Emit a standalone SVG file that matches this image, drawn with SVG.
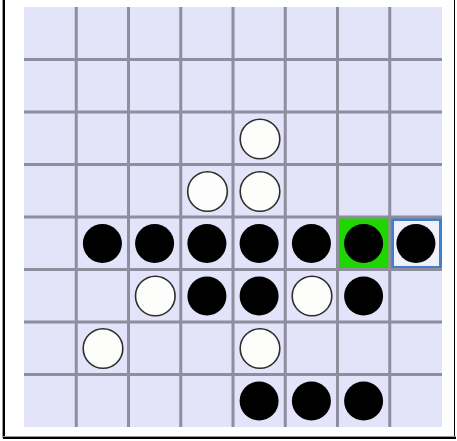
<svg xmlns="http://www.w3.org/2000/svg" width="457" height="441" viewBox="0 0 457 441">
  <style>
    .gl { stroke: #8e8e9e; stroke-width: 3; }
    .blk { fill: #000000; }
    .wht { fill: #fdfdfb; stroke: #2e2e2e; stroke-width: 1.6; }
  </style>
  <rect x="0" y="0" width="457" height="441" fill="#ffffff"/>
  <!-- outer frame -->
  <g id="frame" fill="none">
    <line x1="2.5" y1="0" x2="2.5" y2="438" stroke="#9a9a9a" stroke-width="1"/>
    <line x1="4" y1="0" x2="4" y2="438" stroke="#000" stroke-width="2"/>
    <line x1="454.5" y1="0" x2="454.5" y2="439" stroke="#000" stroke-width="1"/>
    <line x1="3" y1="436.5" x2="456" y2="436.5" stroke="#9a9a9a" stroke-width="1"/>
    <line x1="3" y1="438" x2="456" y2="438" stroke="#000" stroke-width="2"/>
  </g>
  <!-- board -->
  <g id="board">
    <rect x="24" y="7" width="418" height="420" fill="#e3e3f9"/>
    <rect id="last-move" x="337.5" y="217" width="52.25" height="52.5" fill="#1fd600"/>
    <rect x="389.75" y="217" width="52.25" height="52.5" fill="#eef0fc"/>
    <rect id="cursor" x="392.5" y="219.5" width="48" height="48" fill="none" stroke="#3f80c6" stroke-width="3"/>
    <g id="gridlines">
      <line class="gl" x1="76.25" y1="7" x2="76.25" y2="427"/>
      <line class="gl" x1="128.5" y1="7" x2="128.5" y2="427"/>
      <line class="gl" x1="180.75" y1="7" x2="180.75" y2="427"/>
      <line class="gl" x1="233" y1="7" x2="233" y2="427"/>
      <line class="gl" x1="285.25" y1="7" x2="285.25" y2="427"/>
      <line class="gl" x1="337.5" y1="7" x2="337.5" y2="427"/>
      <line class="gl" x1="389.75" y1="7" x2="389.75" y2="427"/>
      <line class="gl" x1="24" y1="59.5" x2="442" y2="59.5"/>
      <line class="gl" x1="24" y1="112" x2="442" y2="112"/>
      <line class="gl" x1="24" y1="164.5" x2="442" y2="164.5"/>
      <line class="gl" x1="24" y1="217" x2="442" y2="217"/>
      <line class="gl" x1="24" y1="269.5" x2="442" y2="269.5"/>
      <line class="gl" x1="24" y1="322" x2="442" y2="322"/>
      <line class="gl" x1="24" y1="374.5" x2="442" y2="374.5"/>
    </g>
  </g>
  <g id="connectors"></g>
  <!-- stones -->
  <g id="w-r2c4"><circle class="wht" cx="260" cy="139" r="19.8"/></g>
  <g id="w-r3c3"><circle class="wht" cx="207.5" cy="191.5" r="19.8"/></g>
  <g id="w-r3c4"><circle class="wht" cx="260" cy="191.5" r="19.8"/></g>
  <g id="b-r4c1"><circle class="blk" cx="102.4" cy="243.5" r="19.5"/></g>
  <g id="b-r4c2"><circle class="blk" cx="154.6" cy="243.5" r="19.5"/></g>
  <g id="b-r4c3"><circle class="blk" cx="206.9" cy="243.5" r="19.5"/></g>
  <g id="b-r4c4"><circle class="blk" cx="259.1" cy="243.5" r="19.5"/></g>
  <g id="b-r4c5"><circle class="blk" cx="311.4" cy="243.5" r="19.5"/></g>
  <g id="b-r4c6"><circle class="blk" cx="363.6" cy="243.5" r="19.5"/></g>
  <g id="b-r4c7"><circle class="blk" cx="415.9" cy="243.5" r="19.5"/></g>
  <g id="w-r5c2"><circle class="wht" cx="155.3" cy="296" r="19.8"/></g>
  <g id="b-r5c3"><circle class="blk" cx="206.9" cy="296" r="19.5"/></g>
  <g id="b-r5c4"><circle class="blk" cx="259.1" cy="296" r="19.5"/></g>
  <g id="w-r5c5"><circle class="wht" cx="312" cy="296" r="19.8"/></g>
  <g id="b-r5c6"><circle class="blk" cx="363.6" cy="296" r="19.5"/></g>
  <g id="w-r6c1"><circle class="wht" cx="103" cy="348.5" r="19.8"/></g>
  <g id="w-r6c4"><circle class="wht" cx="260" cy="348.5" r="19.8"/></g>
  <g id="b-r7c4"><circle class="blk" cx="259.1" cy="401" r="19.5"/></g>
  <g id="b-r7c5"><circle class="blk" cx="311.4" cy="401" r="19.5"/></g>
  <g id="b-r7c6"><circle class="blk" cx="363.6" cy="401" r="19.5"/></g>
</svg>
